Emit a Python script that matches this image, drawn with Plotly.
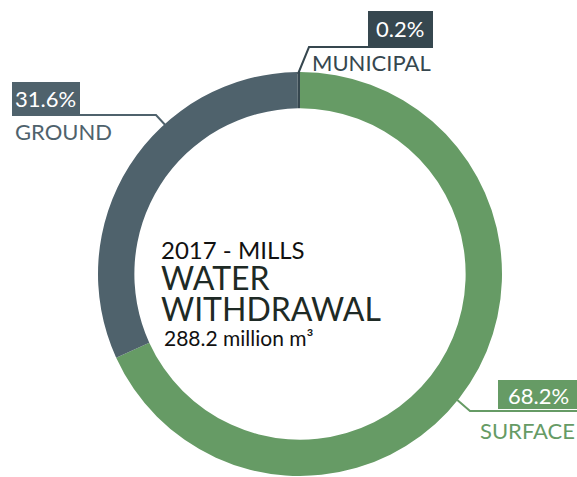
import plotly.graph_objects as go

categories = ["SURFACE", "GROUND", "MUNICIPAL"]
values = [68.2, 31.6, 0.2]
pct_labels = ["68.2%", "31.6%", "0.2%"]
colors = ["#669b65", "#4f626c", "#36474f"]
title_year = "2017 - MILLS"
title_main = ["WATER", "WITHDRAWAL"]
total_text = "288.2 million m³"

W, H = 577, 477
FONT = "Lato"

def px(x):
    return x / W

def py(y):
    return 1 - y / H

cx, cy, R = 300, 274, 202

fig = go.Figure()
fig.add_trace(go.Pie(
    labels=categories, values=values, sort=False, direction="clockwise",
    rotation=0, hole=0.82, textinfo="none", hoverinfo="label+percent",
    marker=dict(colors=colors, line=dict(width=0)),
    domain=dict(x=[px(cx - R), px(cx + R)], y=[py(cy + R), py(cy - R)]),
    showlegend=False,
))

shapes = []
annotations = []

label_layout = {
    "MUNICIPAL": dict(box=(368, 11, 433, 46), line=[(298, 74), (309, 47), (433, 47)],
                      name=(433, 63), anchor="right", pct=(400, 29)),
    "GROUND": dict(box=(12, 82, 80, 114), line=[(12, 115), (156, 115), (168, 128)],
                   name=(13, 131), anchor="left", pct=(46, 98)),
    "SURFACE": dict(box=(498, 380, 577, 409), line=[(455, 398), (470, 411), (577, 411)],
                    name=(577, 430), anchor="right", pct=(538, 395)),
}

for cat, pct, col in zip(categories, pct_labels, colors):
    L = label_layout[cat]
    x0, y0, x1, y1 = L["box"]
    shapes.append(dict(type="rect", xref="paper", yref="paper",
                       x0=px(x0), x1=px(x1), y0=py(y1), y1=py(y0),
                       fillcolor=col, line=dict(width=0), layer="above"))
    path = "M " + " L ".join(f"{px(a)},{py(b)}" for a, b in L["line"])
    shapes.append(dict(type="path", xref="paper", yref="paper", path=path,
                       line=dict(color=col, width=2), layer="above"))
    annotations.append(dict(text=pct, x=px(L["pct"][0]), y=py(L["pct"][1]),
                            xref="paper", yref="paper", showarrow=False,
                            xanchor="center", yanchor="middle",
                            font=dict(family=FONT, size=22, color="white")))
    annotations.append(dict(text=cat, x=px(L["name"][0]), y=py(L["name"][1]),
                            xref="paper", yref="paper", showarrow=False,
                            xanchor=L["anchor"], yanchor="middle",
                            font=dict(family=FONT, size=22, color=col)))

tx = 160
block = (f"{title_year}<br>"
         + "<br>".join(f'<span style="font-size:32px;color:#1e2a25">{t}</span>' for t in title_main))
annotations.append(dict(text=block, x=px(tx), y=py(234), xref="paper", yref="paper",
                        showarrow=False, xanchor="left", yanchor="top", align="left",
                        borderpad=0,
                        font=dict(family=FONT, size=24, color="#111111")))
annotations.append(dict(text=total_text, x=px(tx + 2), y=py(337), xref="paper", yref="paper",
                        showarrow=False, xanchor="left", yanchor="middle",
                        font=dict(family=FONT, size=21, color="#111111")))

fig.update_layout(width=W, height=H, margin=dict(l=0, r=0, t=0, b=0),
                  paper_bgcolor="white", plot_bgcolor="white",
                  shapes=shapes, annotations=annotations)
fig.write_html("out.html")
